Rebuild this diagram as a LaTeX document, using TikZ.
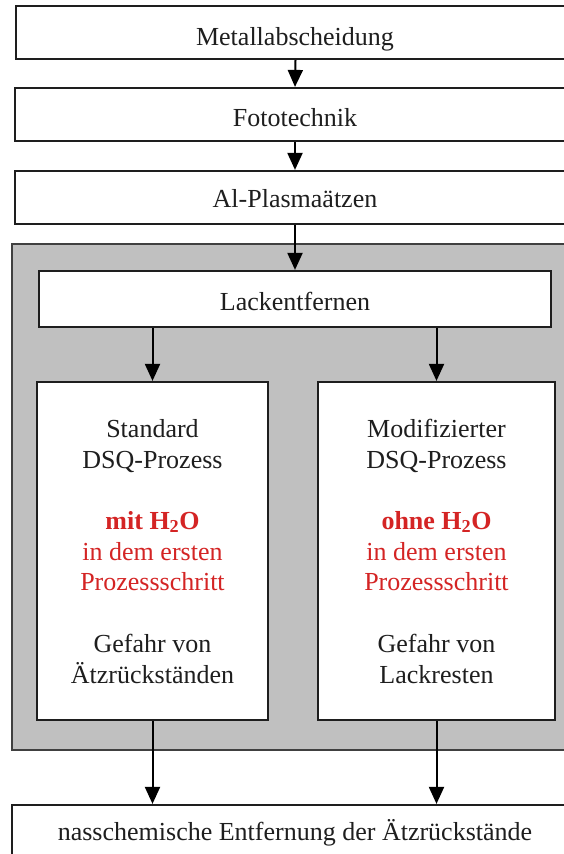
\documentclass[tikz,border=0pt]{standalone}
\usepackage{fontspec}
\setmainfont{Liberation Serif}
\usetikzlibrary{arrows.meta}
\definecolor{panelgray}{RGB}{192,192,192}
\definecolor{hotred}{RGB}{212,36,36}
\definecolor{edgecol}{RGB}{30,30,30}
\begin{document}
\begin{tikzpicture}[x=1pt,y=-1pt,
  box/.style={draw=edgecol, line width=2.2pt, fill=white, rectangle, inner sep=0pt},
  panel/.style={draw=edgecol!85, line width=1.6pt, fill=panelgray, rectangle, inner sep=0pt},
  txt/.style={anchor=base, inner sep=0pt, text=edgecol, font=\fontsize{26}{30.7}\selectfont},
  redtxt/.style={txt, text=hotred},
  arr/.style={draw=black, line width=2pt, -{Triangle[length=17pt,width=15pt]}}]
\useasboundingbox (0,0) rectangle (564,854);
\clip (0,0) rectangle (564,854);
% top chain
\node[box, minimum width=559pt, minimum height=53pt] (b1) at (295.5,32.5) {};
\node[box, minimum width=560pt, minimum height=53pt] (b2) at (295,114.5) {};
\node[box, minimum width=560pt, minimum height=53pt] (b3) at (295,197.5) {};
\node[txt] (t1) at (295,45) {Metallabscheidung};
\node[txt] (t2) at (295,126) {Fototechnik};
\node[txt] (t3) at (295,207) {Al-Plasmaätzen};
% gray panel
\node[panel, minimum width=566pt, minimum height=506pt] (pan) at (295,497) {};
\node[box, minimum width=512pt, minimum height=56pt] (lack) at (295,299) {};
\node[txt] (tl) at (295,310) {Lackentfernen};
\node[box, minimum width=231pt, minimum height=338pt] (li) at (152.5,551) {};
\node[box, minimum width=237pt, minimum height=338pt] (ri) at (436.5,551) {};
% left texts
\node[txt] (l1) at (152.5,437) {Standard};
\node[txt] (l2) at (152.5,468) {DSQ-Prozess};
\node[redtxt] (l3) at (152.5,529) {\textbf{mit H\textsubscript{2}O}};
\node[redtxt] (l4) at (152.5,560) {in dem ersten};
\node[redtxt] (l5) at (152.5,590) {Prozessschritt};
\node[txt] (l6) at (152.5,652) {Gefahr von};
\node[txt] (l7) at (152.5,683) {Ätzrückständen};
% right texts
\node[txt] (r1) at (436.5,437) {Modifizierter};
\node[txt] (r2) at (436.5,468) {DSQ-Prozess};
\node[redtxt] (r3) at (436.5,529) {\textbf{ohne H\textsubscript{2}O}};
\node[redtxt] (r4) at (436.5,560) {in dem ersten};
\node[redtxt] (r5) at (436.5,590) {Prozessschritt};
\node[txt] (r6) at (436.5,652) {Gefahr von};
\node[txt] (r7) at (436.5,683) {Lackresten};
% bottom
\node[box, minimum width=566pt, minimum height=100pt] (bot) at (295,855) {};
\node[txt] (tb) at (295,840) {nasschemische Entfernung der Ätzrückstände};
% arrows
\draw[arr] (b1.south) -- (b2.north);
\draw[arr] (b2.south) -- (b3.north);
\draw[arr] (b3.south) -- (lack.north);
\draw[arr] (lack.south -| li.north) -- (li.north);
\draw[arr] (lack.south -| ri.north) -- (ri.north);
\draw[arr] (li.south) -- (li.south |- bot.north);
\draw[arr] (ri.south) -- (ri.south |- bot.north);
\end{tikzpicture}
\end{document}
